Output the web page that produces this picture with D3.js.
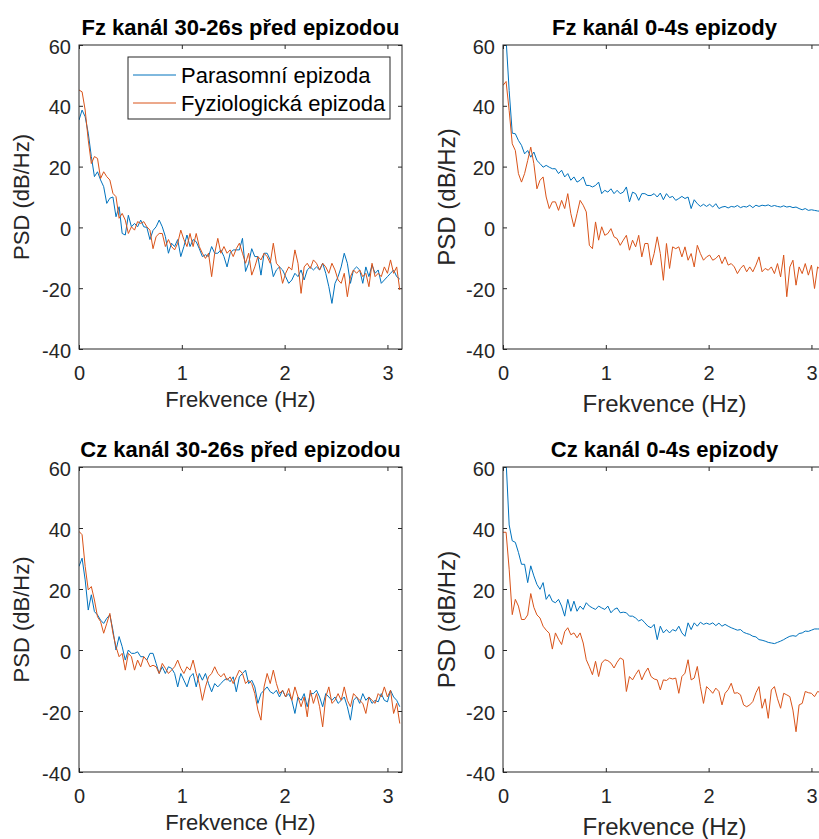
<!DOCTYPE html>
<html>
<head>
<meta charset="utf-8">
<script src="https://cdn.jsdelivr.net/npm/d3@7"></script>
<style>
  body { margin: 0; background: #fff; }
  svg { display: block; font-family: "Liberation Sans", Arial, Helvetica, sans-serif; }
</style>
</head>
<body>
<script>
// frekvence (Hz), krok 0.03
var freq = [0,0.03,0.06,0.09,0.12,0.15,0.18,0.21,0.24,0.27,0.3,0.33,0.36,0.39,0.42,0.45,0.48,0.51,0.54,0.57,
  0.6,0.63,0.66,0.69,0.72,0.75,0.78,0.81,0.84,0.87,0.9,0.93,0.96,0.99,1.02,1.05,1.08,1.11,1.14,1.17,
  1.2,1.23,1.26,1.29,1.32,1.35,1.38,1.41,1.44,1.47,1.5,1.53,1.56,1.59,1.62,1.65,1.68,1.71,1.74,1.77,
  1.8,1.83,1.86,1.89,1.92,1.95,1.98,2.01,2.04,2.07,2.1,2.13,2.16,2.19,2.22,2.25,2.28,2.31,2.34,2.37,
  2.4,2.43,2.46,2.49,2.52,2.55,2.58,2.61,2.64,2.67,2.7,2.73,2.76,2.79,2.82,2.85,2.88,2.91,2.94,2.97,
  3,3.03,3.06,3.09,3.12];

// Fz kanal 30-26s pred epizodou
var fzPreParasomni = [35.3,38.6,36.4,31,23.3,16.7,18.3,15.6,13.4,7.9,
  9.6,10,3.5,6.8,-2,-2.5,4,0.2,1.3,0.2,
  2.4,0.2,0,-4,-1,0.2,2.4,0.2,-3,-8.5,
  -5.2,-6.3,-4,-9.6,-6.3,-2.5,-6.3,-4,-4.7,-7,
  -9.6,-9,-9.6,-6.3,-8.5,-8.5,-7.4,-9.6,-13,-8.5,
  -7.4,-7.4,-7.4,-3.6,-14.5,-11.8,-7,-9.6,-9.6,-15.7,
  -8.5,-8.5,-10.7,-16.2,-14,-13,-14,-16.2,-18.4,-17.3,
  -15.1,-16.2,-14,-17.3,-14,-13,-14,-13,-14,-11.8,
  -15.1,-19.5,-25,-18.4,-16.2,-13,-8.5,-11.8,-18.4,-14,
  -13,-14,-18.4,-13,-16.2,-12.4,-15.1,-14,-18.4,-17.3,
  -16.2,-15.1,-14,-16.2,-17];
var fzPreFyzio = [45.2,44.6,38.6,28.7,21,23.3,22.7,16.1,18.3,16.7,
  15.6,11.2,10.1,3,4.6,2.4,-2,0.2,-0.9,1.9,
  1.3,1.9,0.2,-0.9,-7,-3,-2,-2,-6.3,-4,
  -6.3,-7.4,-5.2,-0.9,-4,-6.3,-2,-6.3,-2,-6.3,
  -8.5,-10.2,-8.5,-16.2,-8.5,-3.6,-8.5,-6.3,-8.5,-7.4,
  -9.6,-7,-5.2,-8.5,-11.8,-8.5,-15.7,-13,-9.6,-10.7,
  -8.5,-9.6,-11.8,-5.2,-11.8,-13,-18.4,-15.1,-13,-14,
  -7.4,-11.8,-21.7,-13,-11.8,-13.5,-10.7,-11.8,-14,-11.8,
  -13,-15.1,-11.8,-14,-17.3,-18.4,-15.1,-22.8,-16.2,-14,
  -15.1,-14,-16.2,-15.1,-19.5,-11.8,-16.2,-15.1,-16.2,-13,
  -15.1,-10.7,-15.1,-13,-20.6];

// Fz kanal 0-4s epizody
var fzEpParasomni = [75,62,45,31,30.8,28.6,27,24.2,25.3,23.1,
  24.8,22,21,19.8,20.4,19.8,19.3,19.3,17.7,18.8,
  16.6,17.7,15.5,16.6,14.9,15.5,16.6,13.8,13.8,13.3,
  13.8,14.9,11.1,12.2,11.6,12.7,11.1,12.2,11.1,11.6,
  13.3,8.4,11.6,11.1,8.9,11.1,11.1,10.5,10.5,11.1,
  10,11.3,9.1,11.1,9.8,10.2,8.9,9.5,10.2,9.5,
  10,6.2,9.1,7.8,6.9,7.6,6.9,7.6,6.7,7.8,
  6.2,6.7,6.9,6.4,6.9,6.7,7.2,6.5,6.9,6.7,
  7.3,6.5,7.3,6.9,7.3,7.1,7.4,6.9,7.2,6.9,
  6.7,7.1,6.7,6.9,6.5,6.7,6.2,5.8,6.2,5.6,
  5.8,5.6,5.4,5.3,5.2];
var fzEpFyzio = [46.7,48,38.4,27.5,25.3,17.7,14.9,17.7,22,26.4,
  21,12.7,15.5,16.6,10,6.2,8.4,8.4,5.6,8.9,
  6.2,11.1,4.5,0.2,4.5,8.9,7.3,5.1,-5.9,-7,
  1.8,-4.2,0.2,-2.6,-2,-0.4,-3.1,-3.7,-5.9,-4.2,
  -2.6,-7.5,-4.2,-6.4,-2.6,-9.7,-5.3,-5.3,-12.4,-8.6,
  -3.1,-8.6,-17.4,-5.3,-13.5,-6.4,-7,-6.4,-9.7,-6.4,
  -10.8,-8.6,-13,-5.9,-8.6,-10.8,-9.7,-9.1,-10.8,-10.2,
  -9.1,-11.9,-9.7,-12.4,-11.9,-13,-15.2,-13.5,-12.4,-14.6,
  -13,-14.6,-12.4,-9.7,-14.6,-13.5,-14.1,-13,-15.2,-11.9,
  -16.3,-9.1,-22.8,-13,-10.8,-19,-13,-15.2,-11.9,-15.7,
  -12.4,-20.1,-13,-14,-15];

// Cz kanal 30-26s pred epizodou
var czPreParasomni = [27.4,30.1,23,13.1,18.1,12.6,11.5,9.8,8.7,10.4,
  11.5,6.5,0,4.4,1.1,-3.3,0,-1.1,-1.1,-0.6,
  -2.2,-2.2,-3.3,-1.1,-1.1,-4.4,-7.7,-5.5,-7.7,-5.5,
  -6,-7.7,-12.1,-7.7,-9.9,-12.1,-8.8,-7.7,-12.1,-7.7,
  -9.9,-7.7,-11,-13.7,-11,-12.1,-11,-9.9,-9.3,-10.4,
  -8.8,-13.7,-8.8,-7.7,-6.6,-11,-9.9,-12.1,-17.5,-14.3,
  -13.2,-12.1,-13.7,-14.3,-13.2,-15.4,-13.2,-15.4,-14.3,-16.5,
  -20.8,-15.4,-16.5,-14.3,-18.6,-14.3,-14.3,-13.2,-15.4,-18.6,
  -14.3,-15.4,-16.5,-15.4,-17.5,-16.5,-15.4,-18.6,-23,-16.5,
  -15.4,-17.5,-14.3,-16.5,-15.4,-17.5,-16.5,-17,-14.3,-16.5,
  -17,-13.2,-15.4,-16.5,-18.6];
var czPreFyzio = [38.9,37.8,27.4,19.7,20.8,16.4,10.9,9.3,5.5,8.7,
  12,5.5,1.1,-2.2,-1.1,-6.6,-1.1,-2.2,-6.6,-3.3,
  -5.5,-2.2,-3.3,-5.5,-5,-5.5,-7.7,-4.4,-6,-7.7,
  -6.6,-5.5,-3.3,-6,-7.7,-5.5,-6.6,-3.3,-7.7,-11,
  -16.5,-12.1,-8.8,-7.7,-5.5,-7.7,-8.8,-7.7,-9.9,-8.8,
  -11,-8.8,-6.6,-7.7,-11,-9.9,-11,-14.3,-19.7,-23,
  -12.1,-7.7,-11,-6.6,-11,-14.3,-13.2,-15.4,-12.6,-16.5,
  -12.1,-15.4,-18.6,-15.4,-21.9,-13.2,-17.5,-14.3,-18.6,-25.2,
  -15.4,-12.1,-17.5,-16.5,-14.3,-16.5,-12.1,-16.5,-18.6,-14.3,
  -15.4,-16.5,-17.5,-20.8,-15.4,-16.5,-17.5,-14.3,-15.4,-12.1,
  -15.4,-13.2,-20.8,-17.5,-24.1];

// Cz kanal 0-4s epizody
var czEpParasomni = [75,62,41,35.8,35.3,32,28.1,28.1,22.1,27.6,
  24.3,21.5,19.9,22.1,16.6,18.2,16,15.5,16.6,14.4,
  11.1,16.6,12.7,16,12.7,14.4,13.3,15.5,14.4,13.8,
  13.3,14.4,13.8,13.3,14.4,12.2,13.3,13.8,12.2,12.4,
  12.2,11.1,11.1,10.5,9.5,10,8.9,7.8,7.3,8.4,
  3.4,7.8,5.6,6.7,5.6,6.7,6.2,7.8,5.6,4.5,
  8.9,6.7,8.9,7.8,9.1,8.4,8.8,8.4,8.9,8,
  8.8,7.8,8.4,7.8,7.3,6.9,6.5,6.7,5.8,5.4,
  5.1,4.5,4.3,3.4,3.2,2.9,2.5,2.3,2.1,2.5,
  2.9,3.4,4,4.5,4.7,4.5,5.4,5.6,6.2,6.1,
  6.5,6.9,6.9,6.9,6.7];
var czEpFyzio = [38.6,38.6,26.5,11.6,16.6,14.4,10,10,11.5,18.5,
  14,11.5,10.5,7.8,6.5,5.5,0.3,5.6,3.5,1.8,
  6,7.3,5,5.6,4,5.6,2.3,-3.2,-5.5,-8.1,
  -3.7,-8.7,-4.3,-3.2,-3.5,-4.3,-5.9,-4,-2.6,-3.2,
  -13.6,-8.7,-9.8,-8,-6.5,-9.8,-7.5,-5.9,-8.7,-9.5,
  -9.8,-13.1,-9.8,-10,-9.2,-9.5,-9.2,-14.2,-8.7,-7.6,
  -3.2,-9.8,-9.2,-5.4,-12,-17.5,-12,-13,-14.2,-12.5,
  -13.6,-18,-14.2,-13,-10.9,-14.2,-14,-14.7,-18,-18.6,
  -18,-16.9,-14,-12,-19.1,-16,-22.4,-13.1,-12,-16,
  -19.1,-14.2,-14.7,-15.3,-19.7,-26.8,-18,-17.5,-13.6,-14,
  -14.2,-15.3,-13.6,-14,-14.5];

var seriesNames = ["Parasomní epizoda", "Fyziologická epizoda"];
var seriesColors = ["#0072BD", "#D95319"];
var titles = ["Fz kanál 30-26s před epizodou", "Fz kanál 0-4s epizody",
              "Cz kanál 30-26s před epizodou", "Cz kanál 0-4s epizody"];
var xTicks = [0, 1, 2, 3];
var yTicks = [-40, -20, 0, 20, 40, 60];
var xLabel = "Frekvence (Hz)";
var yLabel = "PSD (dB/Hz)";

var W = 819, H = 839;
var axisColor = "#262626";

var svg = d3.select("body").append("svg")
    .attr("width", W)
    .attr("height", H);

var panels = [
  {title: titles[0], data: [fzPreParasomni, fzPreFyzio], left: 79, top: 45, height: 304, labelSize: 22, legend: true},
  {title: titles[1], data: [fzEpParasomni, fzEpFyzio], left: 503, top: 45, height: 304, labelSize: 24, legend: false},
  {title: titles[2], data: [czPreParasomni, czPreFyzio], left: 79, top: 467, height: 305, labelSize: 22, legend: false},
  {title: titles[3], data: [czEpParasomni, czEpFyzio], left: 503, top: 467, height: 305, labelSize: 24, legend: false}
];

// MATLAB pise obycejny spojovnik, ne unicode minus
function plainNumber(d) { return String(d); }

function drawPanel(p, idx) {
    var width = 323;
    var x = d3.scaleLinear().domain([0, Math.PI]).range([0, width]);
    var y = d3.scaleLinear().domain([-40, 60]).range([p.height, 0]);

    var g = svg.append("g")
        .attr("transform", "translate(" + p.left + "," + p.top + ")");

    g.append("clipPath")
        .attr("id", "clip" + idx)
        .append("rect")
        .attr("width", width)
        .attr("height", p.height);

    // osy s tiky dovnitr
    var bottom = g.append("g")
        .attr("transform", "translate(0," + p.height + ")")
        .call(d3.axisBottom(x).tickValues(xTicks).tickFormat(plainNumber)
              .tickSizeInner(-4).tickSizeOuter(0).tickPadding(17));
    var left = g.append("g")
        .call(d3.axisLeft(y).tickValues(yTicks).tickFormat(plainNumber)
              .tickSizeInner(-4).tickSizeOuter(0).tickPadding(8));
    var top = g.append("g")
        .call(d3.axisTop(x).tickValues(xTicks).tickFormat("")
              .tickSizeInner(-4).tickSizeOuter(0));
    var right = g.append("g")
        .attr("transform", "translate(" + width + ",0)")
        .call(d3.axisRight(y).tickValues(yTicks).tickFormat("")
              .tickSizeInner(-4).tickSizeOuter(0));

    [bottom, left, top, right].forEach(function(a) {
        a.select(".domain").remove();
        a.selectAll("line").attr("stroke", axisColor);
        a.selectAll("text")
            .attr("fill", axisColor)
            .attr("font-size", 20)
            .attr("font-family", null);
    });
    left.selectAll("text").attr("dy", "0.4em");

    // krivky
    var line = d3.line()
        .x(function(d, i) { return x(freq[i]); })
        .y(function(d) { return y(d); });

    g.append("g")
        .attr("clip-path", "url(#clip" + idx + ")")
        .selectAll("path")
        .data(p.data)
        .enter()
        .append("path")
        .attr("d", line)
        .attr("fill", "none")
        .attr("stroke", function(d, i) { return seriesColors[i]; })
        .attr("stroke-width", 1)
        .attr("stroke-linejoin", "round");

    g.append("rect")
        .attr("width", width)
        .attr("height", p.height)
        .attr("fill", "none")
        .attr("stroke", axisColor)
        .attr("stroke-width", 1);

    // popisky
    g.append("text")
        .attr("x", width / 2)
        .attr("y", -10)
        .attr("text-anchor", "middle")
        .attr("font-size", 22)
        .attr("font-weight", "bold")
        .attr("fill", "#000")
        .text(p.title);

    g.append("text")
        .attr("x", width / 2)
        .attr("y", p.height + (p.labelSize == 24 ? 63 : 58))
        .attr("text-anchor", "middle")
        .attr("font-size", p.labelSize)
        .attr("fill", axisColor)
        .text(xLabel);

    g.append("text")
        .attr("transform", "translate(" + (p.labelSize == 24 ? -48 : -50.5) + "," + (p.height / 2) + ") rotate(-90)")
        .attr("text-anchor", "middle")
        .attr("font-size", p.labelSize)
        .attr("fill", axisColor)
        .text(yLabel);

    if (p.legend) {
        var lg = g.append("g").attr("transform", "translate(49,12)");
        lg.append("rect")
            .attr("width", 262)
            .attr("height", 62)
            .attr("fill", "#fff")
            .attr("stroke", axisColor)
            .attr("stroke-width", 1);
        var item = lg.selectAll(".item")
            .data(seriesNames)
            .enter()
            .append("g")
            .attr("class", "item")
            .attr("transform", function(d, i) { return "translate(0," + (18 + i * 28) + ")"; });
        item.append("line")
            .attr("x1", 5).attr("x2", 48)
            .attr("stroke", function(d, i) { return seriesColors[i]; })
            .attr("stroke-width", 1);
        item.append("text")
            .attr("x", 53)
            .attr("y", 7.5)
            .attr("font-size", 22)
            .attr("fill", "#000")
            .text(function(d) { return d; });
    }
}

panels.forEach(drawPanel);
</script>
</body>
</html>
